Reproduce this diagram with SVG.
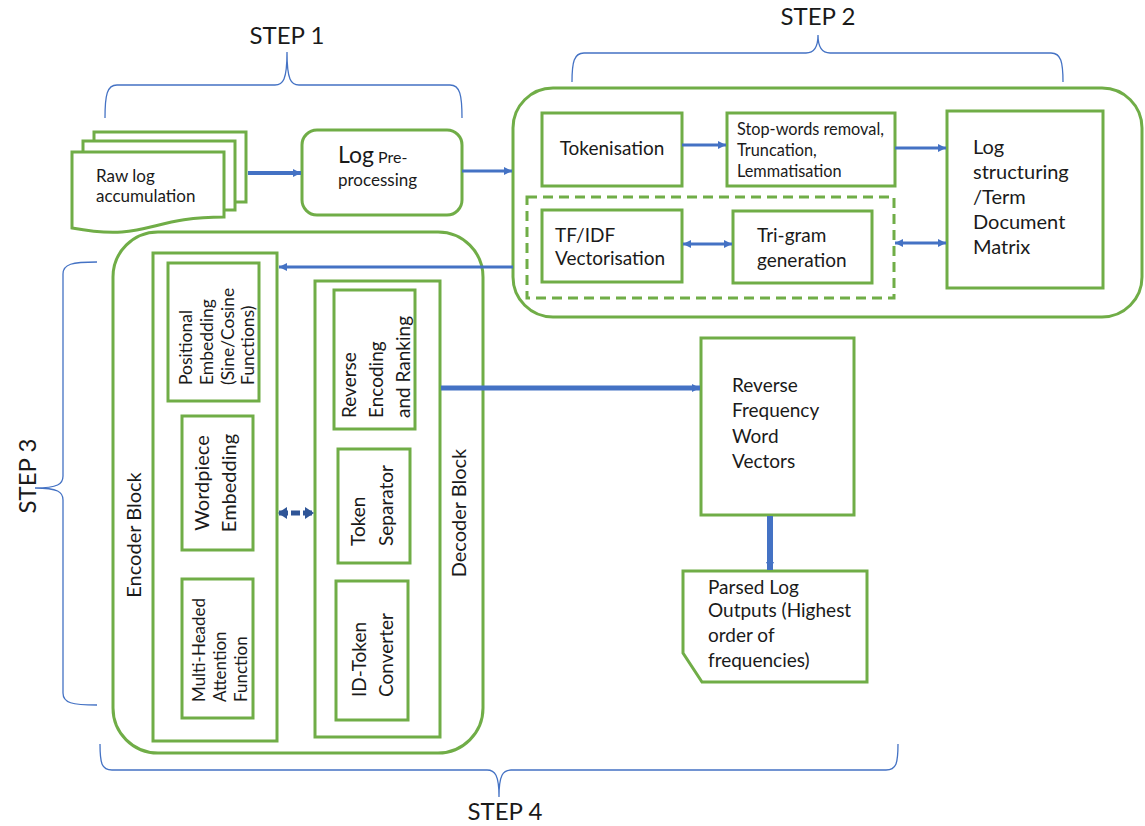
<svg xmlns="http://www.w3.org/2000/svg" width="1145" height="826" viewBox="0 0 1145 826">
<defs>
<style>
.g{fill:#fff;stroke:#70AD47;stroke-width:3}
.gd{fill:none;stroke:#70AD47;stroke-width:3;stroke-dasharray:10 6}
.t{font-family:Lato,"Open Sans",sans-serif;fill:#1a1a1a}
.br{fill:none;stroke:#4472C4;stroke-width:1.3}
.c{fill:none;stroke:#4472C4}
</style>
<marker id="ah" markerUnits="userSpaceOnUse" markerWidth="10" markerHeight="10" refX="8" refY="5" orient="auto-start-reverse">
<path d="M0,1 L8,5 L0,9 Z" fill="#4472C4"/>
</marker>
<marker id="ahd" markerUnits="userSpaceOnUse" markerWidth="10" markerHeight="12" refX="8" refY="6" orient="auto-start-reverse">
<path d="M0,0 L9,6 L0,12 Z" fill="#2F5597"/>
</marker>
</defs>
<rect width="1145" height="826" fill="#fff"/>

<g id="braces">
<path class="br" d="M105,118 C105,95 107,85 117,85 H275 C283,85 287,80 287,52 C287,80 291,85 299,85 H450 C460,85 462,95 462,118"/>
<text class="t" x="287" y="44" font-size="24" text-anchor="middle">STEP 1</text>
<path class="br" d="M572,82 C572,62 574,53 584,53 H806 C814,53 818,48 818,35 C818,48 822,53 830,53 H1051 C1061,53 1063,62 1063,82"/>
<text class="t" x="818" y="25" font-size="24" text-anchor="middle">STEP 2</text>
<path class="br" d="M97,262 C72,262 63,264 63,274 V476 C63,484 58,488 35,488 C58,488 63,492 63,500 V693 C63,703 72,705 97,705"/>
<text class="t" transform="translate(36,476) rotate(-90)" font-size="24" text-anchor="middle">STEP 3</text>
<path class="br" d="M100,744 C100,764 102,770 112,770 H487 C495,770 499,775 499,797 C499,775 503,770 511,770 H886 C896,770 898,764 898,744"/>
<text class="t" x="505" y="820" font-size="24" text-anchor="middle">STEP 4</text>
</g>

<g id="raw-log">
<rect class="g" x="94" y="132" width="152" height="70"/>
<rect class="g" x="83" y="141" width="152" height="69"/>
<path class="g" d="M72,152 H224 V217 C148,217 148,242 72,228 Z"/>
<text class="t" font-size="17"><tspan x="96" y="182">Raw log</tspan><tspan x="96" y="202">accumulation</tspan></text>
</g>

<g id="log-preprocessing">
<rect class="g" x="302" y="130" width="160" height="85" rx="15"/>
<text class="t" x="338" y="163"><tspan font-size="23">Log</tspan><tspan font-size="16"> Pre-</tspan></text>
<text class="t" x="338" y="186" font-size="17">processing</text>
</g>

<g id="step2-container">
<rect class="g" x="513" y="88" width="629" height="229" rx="40"/>
</g>
<g id="tokenisation">
<rect class="g" x="542" y="113" width="140" height="73"/>
<text class="t" x="612" y="155" font-size="19" text-anchor="middle">Tokenisation</text>
</g>
<g id="stopwords">
<rect class="g" x="727" y="113" width="168" height="73"/>
<text class="t" font-size="16.3"><tspan x="737" y="135">Stop-words removal,</tspan><tspan x="737" y="156">Truncation,</tspan><tspan x="737" y="177">Lemmatisation</tspan></text>
</g>
<g id="log-structuring">
<rect class="g" x="947" y="111" width="156" height="177"/>
<text class="t" font-size="20"><tspan x="973" y="154">Log</tspan><tspan x="973" y="179">structuring</tspan><tspan x="973" y="204">/Term</tspan><tspan x="973" y="229">Document</tspan><tspan x="973" y="254">Matrix</tspan></text>
</g>
<g id="vector-group">
<rect class="gd" x="527" y="197" width="367" height="101"/>
</g>
<g id="tfidf">
<rect class="g" x="542" y="210" width="140" height="72"/>
<text class="t" font-size="19"><tspan x="555" y="242">TF/IDF</tspan><tspan x="555" y="265">Vectorisation</tspan></text>
</g>
<g id="trigram">
<rect class="g" x="733" y="211" width="139" height="72"/>
<text class="t" font-size="19"><tspan x="757" y="242">Tri-gram</tspan><tspan x="757" y="267">generation</tspan></text>
</g>

<g id="step3-container">
<rect class="g" x="113" y="232" width="370" height="521" rx="45"/>
</g>
<g id="encoder-block">
<rect class="g" x="153" y="253" width="124" height="488"/>
<text class="t" transform="translate(133,535) rotate(-90)" font-size="20" text-anchor="middle" dominant-baseline="central">Encoder Block</text>
</g>
<g id="positional-embedding">
<rect class="g" x="168" y="263" width="91" height="138"/>
<g class="t" font-size="17.5" dominant-baseline="central">
<text transform="translate(185,385) rotate(-90)">Positional</text>
<text transform="translate(206,385) rotate(-90)">Embedding</text>
<text transform="translate(227,385) rotate(-90)">(Sine/Cosine</text>
<text transform="translate(247,385) rotate(-90)">Functions)</text>
</g>
</g>
<g id="wordpiece-embedding">
<rect class="g" x="182" y="416" width="71" height="134"/>
<g class="t" font-size="20" text-anchor="middle" dominant-baseline="central">
<text transform="translate(201,483) rotate(-90)">Wordpiece</text>
<text transform="translate(228,483) rotate(-90)">Embedding</text>
</g>
</g>
<g id="multi-headed-attention">
<rect class="g" x="182" y="579" width="71" height="139"/>
<g class="t" font-size="17" dominant-baseline="central">
<text transform="translate(198,702) rotate(-90)">Multi-Headed</text>
<text transform="translate(219,702) rotate(-90)">Attention</text>
<text transform="translate(240,702) rotate(-90)">Function</text>
</g>
</g>
<g id="decoder-block">
<rect class="g" x="315" y="281" width="125" height="456"/>
<text class="t" transform="translate(458,513) rotate(-90)" font-size="20" text-anchor="middle" dominant-baseline="central">Decoder Block</text>
</g>
<g id="reverse-encoding">
<rect class="g" x="334" y="290" width="81" height="139"/>
<g class="t" font-size="19" dominant-baseline="central">
<text transform="translate(348,418) rotate(-90)">Reverse</text>
<text transform="translate(375,418) rotate(-90)">Encoding</text>
<text transform="translate(402,418) rotate(-90)">and Ranking</text>
</g>
</g>
<g id="token-separator">
<rect class="g" x="338" y="449" width="72" height="114"/>
<g class="t" font-size="19" dominant-baseline="central">
<text transform="translate(357,546) rotate(-90)">Token</text>
<text transform="translate(385,546) rotate(-90)">Separator</text>
</g>
</g>
<g id="id-token-converter">
<rect class="g" x="336" y="581" width="72" height="139"/>
<g class="t" font-size="19" dominant-baseline="central">
<text transform="translate(358,697) rotate(-90)">ID-Token</text>
<text transform="translate(385,697) rotate(-90)">Converter</text>
</g>
</g>

<g id="reverse-frequency">
<rect class="g" x="701" y="338" width="153" height="177"/>
<text class="t" font-size="19"><tspan x="732" y="392">Reverse</tspan><tspan x="732" y="417">Frequency</tspan><tspan x="732" y="443">Word</tspan><tspan x="732" y="468">Vectors</tspan></text>
</g>
<g id="parsed-log">
<path class="g" d="M683,571 H867 V682 H702 L683,653 Z"/>
<text class="t" font-size="19"><tspan x="708" y="594">Parsed Log</tspan><tspan x="708" y="617">Outputs (Highest</tspan><tspan x="708" y="642">order of</tspan><tspan x="708" y="667">frequencies)</tspan></text>
</g>

<g id="connectors">
<path class="c" stroke-width="4" d="M248,173 H301" marker-end="url(#ah)"/>
<path class="c" stroke-width="3" d="M462,171 H512" marker-end="url(#ah)"/>
<path class="c" stroke-width="3" d="M682,145 H726" marker-end="url(#ah)"/>
<path class="c" stroke-width="3" d="M895,148 H946" marker-end="url(#ah)"/>
<path class="c" stroke-width="3" d="M683,244 H732" marker-start="url(#ah)" marker-end="url(#ah)"/>
<path class="c" stroke-width="3" d="M895,243 H946" marker-start="url(#ah)" marker-end="url(#ah)"/>
<path class="c" stroke-width="3" d="M513,267 H279" marker-end="url(#ah)"/>
<path fill="none" stroke="#2F5597" stroke-width="5" stroke-dasharray="9 3" d="M279,513 H313" marker-start="url(#ahd)" marker-end="url(#ahd)"/>
<path class="c" stroke-width="5" d="M441,388 H700" marker-end="url(#ah)"/>
<path class="c" stroke-width="6" d="M770,516 V570" marker-end="url(#ah)"/>
</g>
</svg>
